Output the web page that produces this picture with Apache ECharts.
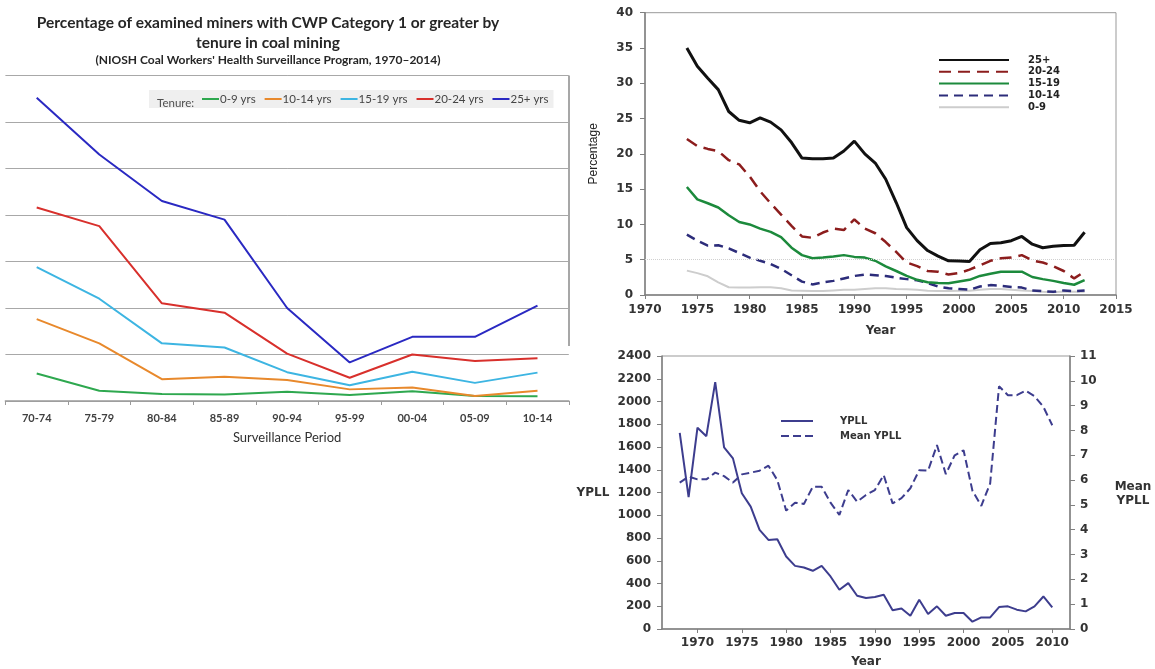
<!DOCTYPE html>
<html>
<head>
<meta charset="utf-8">
<script src="https://cdn.jsdelivr.net/npm/echarts@6/dist/echarts.min.js"></script>
<style>
  html, body { margin: 0; padding: 0; background: #fff; }
  #main { width: 1155px; height: 669px; }
</style>
</head>
<body>
<div id="main"></div>
<script>
// ---- left chart: CWP by tenure, surveillance periods ----
var periods = ['70-74', '75-79', '80-84', '85-89', '90-94', '95-99', '00-04', '05-09', '10-14'];
var ten0_9   = [2.95, 1.1, 0.75, 0.7, 1.0, 0.65, 1.05, 0.55, 0.5];
var ten10_14 = [8.8, 6.2, 2.35, 2.6, 2.25, 1.25, 1.45, 0.55, 1.1];
var ten15_19 = [14.4, 11.0, 6.2, 5.75, 3.1, 1.7, 3.15, 1.95, 3.05];
var ten20_24 = [20.8, 18.8, 10.5, 9.5, 5.1, 2.5, 5.0, 4.3, 4.6];
var ten25    = [32.6, 26.5, 21.5, 19.5, 10.0, 4.15, 6.9, 6.9, 10.25];

// ---- top right: percentage by year, 1974-2012 ----
var pctYears = [];
for (var y = 1974; y <= 2012; y++) pctYears.push(y);
var pct25 = [35.0, 32.4, 30.7, 29.1, 26.0, 24.75, 24.4, 25.1, 24.5, 23.4, 21.6,
  19.4, 19.3, 19.3, 19.4, 20.4, 21.8, 20.0, 18.7, 16.4, 13.1,
  9.55, 7.7, 6.3, 5.5, 4.85, 4.8, 4.75, 6.4, 7.3, 7.4,
  7.7, 8.3, 7.2, 6.7, 6.9, 7.0, 7.05, 8.9];
var pct20 = [22.1, 21.1, 20.7, 20.4, 19.1, 18.5, 16.8, 14.7, 13.0, 11.4, 9.8,
  8.3, 8.1, 8.85, 9.4, 9.2, 10.7, 9.4, 8.75, 7.5, 6.1,
  4.6, 4.1, 3.4, 3.3, 2.9, 3.1, 3.6, 4.2, 4.85, 5.2,
  5.3, 5.65, 4.9, 4.6, 4.1, 3.4, 2.35, 3.3];
var pct15 = [15.3, 13.55, 13.0, 12.4, 11.3, 10.35, 10.0, 9.4, 8.95, 8.2, 6.7,
  5.65, 5.2, 5.3, 5.45, 5.65, 5.4, 5.3, 4.85, 4.05, 3.4,
  2.7, 2.15, 1.8, 1.7, 1.65, 1.9, 2.15, 2.7, 3.0, 3.3,
  3.3, 3.3, 2.55, 2.25, 2.0, 1.7, 1.45, 2.1];
var pct10 = [8.55, 7.7, 7.0, 7.05, 6.6, 5.95, 5.3, 4.85, 4.4, 3.7, 2.8,
  1.9, 1.5, 1.8, 2.0, 2.35, 2.7, 2.9, 2.8, 2.7, 2.45,
  2.25, 2.1, 1.7, 1.2, 0.95, 0.85, 0.75, 1.2, 1.4, 1.3,
  1.15, 1.05, 0.65, 0.55, 0.45, 0.65, 0.55, 0.65];
var pct0 = [3.45, 3.1, 2.65, 1.8, 1.1, 1.05, 1.05, 1.1, 1.1, 0.95, 0.65,
  0.6, 0.55, 0.55, 0.65, 0.75, 0.75, 0.85, 0.95, 0.95, 0.85,
  0.8, 0.75, 0.6, 0.55, 0.55, 0.6, 0.6, 0.75, 0.85, 0.85,
  0.75, 0.65, 0.55, 0.45, 0.4, 0.5, 0.45, 0.45];

// ---- bottom right: YPLL and mean YPLL, 1968-2010 ----
var ypllYears = [];
for (var k = 1968; k <= 2010; k++) ypllYears.push(k);
var ypll = [1725, 1160, 1770, 1695, 2170, 1596, 1500, 1193, 1076, 871,
  783, 789, 637, 555, 541, 512, 555, 462, 345, 403,
  292, 272, 281, 301, 164, 181, 117, 257, 132, 199,
  117, 140, 140, 64, 102, 102, 193, 199, 170, 155,
  199, 286, 190];
var meanYpll = [5.9, 6.14, 6.03, 6.03, 6.3, 6.16, 5.9, 6.23, 6.3, 6.38,
  6.58, 6.0, 4.77, 5.09, 5.04, 5.73, 5.73, 5.09, 4.6, 5.6,
  5.13, 5.4, 5.6, 6.2, 5.06, 5.27, 5.67, 6.4, 6.38, 7.41,
  6.24, 7.0, 7.2, 5.57, 4.96, 5.87, 9.78, 9.42, 9.42, 9.6,
  9.38, 8.95, 8.21];
var ypllTickYears = [1970, 1975, 1980, 1985, 1990, 1995, 2000, 2005, 2010];

function pairs(xs, vs) {
  var out = [];
  for (var i = 0; i < vs.length; i++) out.push([xs[i], vs[i]]);
  return out;
}
function plain(v) { return String(v); }

var boldNum = { fontFamily: 'DejaVu Sans', fontWeight: 'bold', fontSize: 12, color: '#333' };
function numLabel(margin, extra) {
  return Object.assign({ margin: margin, formatter: plain }, boldNum, extra || {});
}

function leftLine(name, data, color) {
  return { name: name, type: 'line', xAxisIndex: 0, yAxisIndex: 0, data: data,
    symbol: 'none', color: color, lineStyle: { width: 2, color: color } };
}
function pctLine(name, vals, color, width, dash, z) {
  return { name: name, type: 'line', xAxisIndex: 1, yAxisIndex: 1, data: pairs(pctYears, vals),
    symbol: 'none', color: color, z: z,
    lineStyle: { width: width, color: color, type: dash || 'solid' } };
}

var myChart = echarts.init(document.getElementById('main'));
var option = {
  backgroundColor: '#fff',
  animation: false,
  title: [
    { text: 'Percentage of examined miners with CWP Category 1 or greater by\ntenure in coal mining',
      left: 263, top: 8, textAlign: 'center',
      textStyle: { fontFamily: 'Lato', fontWeight: 'bold', fontSize: 15.5, lineHeight: 20, color: '#262626' } },
    { text: "(NIOSH Coal Workers' Health Surveillance Program, 1970\u20132014)",
      left: 263, top: 49, textAlign: 'center',
      textStyle: { fontFamily: 'Lato', fontWeight: 'bold', fontSize: 12, color: '#262626' } },
    { text: 'Tenure:', left: 152, top: 92,
      textStyle: { fontFamily: 'Lato', fontWeight: 'normal', fontSize: 11.5, color: '#505050' } },
    { text: 'YPLL', left: 588, top: 482, textAlign: 'center',
      textStyle: boldNum },
    { text: 'Mean\nYPLL', left: 1128, top: 475, textAlign: 'center',
      textStyle: { fontFamily: 'DejaVu Sans', fontWeight: 'bold', fontSize: 12, lineHeight: 14, color: '#333' } }
  ],
  legend: [
    { data: ['0-9 yrs', '10-14 yrs', '15-19 yrs', '20-24 yrs', '25+ yrs'],
      left: 149, top: 90, orient: 'horizontal', padding: [3, 5, 3, 52],
      backgroundColor: '#efefef', itemWidth: 17, itemHeight: 11, itemGap: 8,
      itemStyle: { opacity: 0 },
      textStyle: { fontFamily: 'Lato', fontSize: 11.5, color: '#454545', padding: [0, 0, 0, -4] } },
    { data: ['25+', '20-24', '15-19', '10-14', '0-9'],
      left: 938, top: 55, orient: 'vertical', padding: 0,
      itemWidth: 70, itemHeight: 10, itemGap: 1.8,
      itemStyle: { opacity: 0 },
      textStyle: { fontFamily: 'DejaVu Sans', fontWeight: 'bold', fontSize: 10, color: '#222', padding: [0, 0, 0, 14] } },
    { data: ['YPLL', 'Mean YPLL'],
      left: 780, top: 416, orient: 'vertical', padding: 0,
      itemWidth: 32, itemHeight: 10, itemGap: 5,
      itemStyle: { opacity: 0 },
      textStyle: { fontFamily: 'DejaVu Sans', fontWeight: 'bold', fontSize: 10, color: '#333', padding: [0, 0, 0, 22] } }
  ],
  grid: [
    { left: 5.4, right: 586.2, top: 75.5, bottom: 268 },
    { left: 645, right: 39, top: 12.7, bottom: 374, show: true, borderColor: '#999', borderWidth: 1 },
    { left: 662, right: 85, top: 356, bottom: 40, show: true, borderColor: '#999', borderWidth: 1 }
  ],
  xAxis: [
    { type: 'category', gridIndex: 0, data: periods, boundaryGap: true,
      axisLine: { lineStyle: { color: '#9a9a9a', width: 1.5 } },
      axisTick: { show: true, length: 4, lineStyle: { color: '#9a9a9a' } },
      axisLabel: { fontFamily: 'Lato', fontWeight: 'bold', fontSize: 11, color: '#404040', margin: 12 },
      name: 'Surveillance Period', nameLocation: 'middle', nameGap: 30,
      nameTextStyle: { fontFamily: 'Lato', fontSize: 13, color: '#303030' } },
    { type: 'value', gridIndex: 1, min: 1970, max: 2015, interval: 5,
      axisLine: { lineStyle: { color: '#808080', width: 1.5 } },
      axisTick: { length: 4, lineStyle: { color: '#808080' } },
      axisLabel: numLabel(9),
      splitLine: { show: false },
      name: 'Year', nameLocation: 'middle', nameGap: 30, nameTextStyle: boldNum },
    { type: 'value', gridIndex: 2, min: 1966, max: 2012,
      axisLine: { lineStyle: { color: '#808080', width: 1.5 } },
      axisTick: { length: 4, customValues: ypllTickYears, lineStyle: { color: '#808080' } },
      axisLabel: numLabel(8, { customValues: ypllTickYears }),
      splitLine: { show: false },
      name: 'Year', nameLocation: 'middle', nameGap: 27, nameTextStyle: boldNum }
  ],
  yAxis: [
    { type: 'value', gridIndex: 0, min: 0, max: 35, interval: 5,
      axisLabel: { show: false }, axisLine: { show: false }, axisTick: { show: false },
      splitLine: { lineStyle: { color: '#a8a8a8', width: 1 } } },
    { type: 'value', gridIndex: 1, min: 0, max: 40, interval: 5,
      axisLine: { show: true, lineStyle: { color: '#808080', width: 1.5 } },
      axisTick: { show: true, length: 5, lineStyle: { color: '#808080' } },
      axisLabel: numLabel(12),
      splitLine: { show: false },
      name: 'Percentage', nameLocation: 'middle', nameRotate: 90, nameGap: 45,
      nameTextStyle: { fontFamily: 'Liberation Sans', fontSize: 12, color: '#222' } },
    { type: 'value', gridIndex: 2, min: 0, max: 2400, interval: 200,
      axisLine: { show: true, lineStyle: { color: '#808080', width: 1.5 } },
      axisTick: { show: true, length: 5, lineStyle: { color: '#808080' } },
      axisLabel: numLabel(11),
      splitLine: { show: false } },
    { type: 'value', gridIndex: 2, position: 'right', min: 0, max: 11, interval: 1,
      axisLine: { show: true, lineStyle: { color: '#808080', width: 1.5 } },
      axisTick: { show: true, length: 5, lineStyle: { color: '#808080' } },
      axisLabel: numLabel(10),
      splitLine: { show: false } }
  ],
  graphic: [
    { type: 'line', shape: { x1: 569, y1: 75.5, x2: 569, y2: 346 },
      style: { stroke: '#8a8a8a', lineWidth: 1.5 } }
  ],
  series: [
    leftLine('0-9 yrs', ten0_9, '#2ea84f'),
    leftLine('10-14 yrs', ten10_14, '#e8892c'),
    leftLine('15-19 yrs', ten15_19, '#3db5e2'),
    leftLine('20-24 yrs', ten20_24, '#d8302c'),
    leftLine('25+ yrs', ten25, '#2a29c2'),

    pctLine('0-9', pct0, '#cdcdcd', 2, null, 2),
    pctLine('10-14', pct10, '#2c2c7a', 2.5, [9, 6], 3),
    pctLine('15-19', pct15, '#1c8a3c', 2.5, null, 4),
    pctLine('20-24', pct20, '#8c1d1d', 2.5, [12, 7], 5),
    Object.assign(pctLine('25+', pct25, '#111111', 3, null, 6), {
      markLine: { silent: true, symbol: 'none', label: { show: false },
        lineStyle: { color: '#d0d0d0', type: 'dotted', width: 1 },
        data: [{ yAxis: 5 }] }
    }),

    { name: 'YPLL', type: 'line', xAxisIndex: 2, yAxisIndex: 2, data: pairs(ypllYears, ypll),
      symbol: 'none', color: '#3d3d8e', lineStyle: { width: 2, color: '#3d3d8e' } },
    { name: 'Mean YPLL', type: 'line', xAxisIndex: 2, yAxisIndex: 3, data: pairs(ypllYears, meanYpll),
      symbol: 'none', color: '#3d3d8e', lineStyle: { width: 2, color: '#3d3d8e', type: [8, 4] } }
  ]
};
myChart.setOption(option);
</script>
</body>
</html>
